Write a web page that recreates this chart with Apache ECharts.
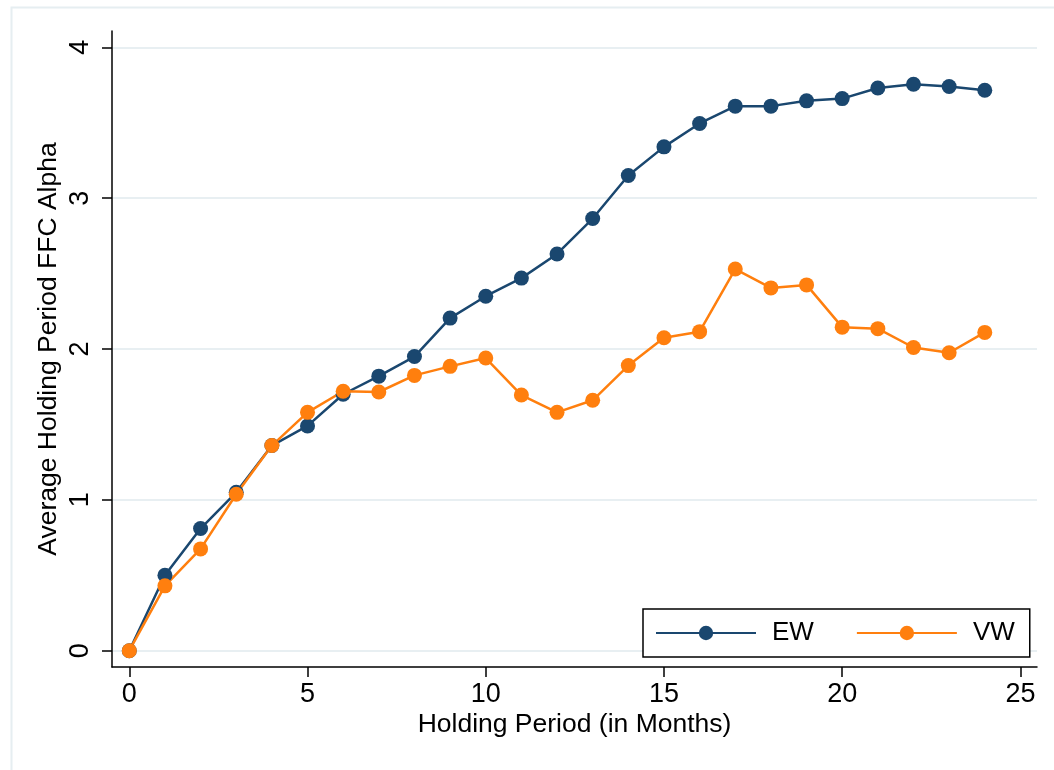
<!DOCTYPE html>
<html>
<head>
<meta charset="utf-8">
<script src="https://cdn.jsdelivr.net/npm/echarts@6/dist/echarts.min.js"></script>
<style>
  html, body { margin: 0; padding: 0; background: #fff; }
  #chart { width: 1054px; height: 770px; }
</style>
</head>
<body>
<div id="chart"></div>
<script>
// holding period (months)
var months = [0, 1, 2, 3, 4, 5, 6, 7, 8, 9, 10, 11, 12, 13, 14, 15, 16, 17, 18, 19, 20, 21, 22, 23, 24];
// equal weighted
var ew = [0, 0.50, 0.81, 1.05, 1.36, 1.49, 1.70, 1.82, 1.95, 2.205, 2.35, 2.47, 2.63, 2.865, 3.15,
  3.34, 3.495, 3.61, 3.61, 3.645, 3.66, 3.73, 3.755, 3.74, 3.715];
// value weighted
var vw = [0, 0.43, 0.675, 1.037, 1.36, 1.58, 1.72, 1.715, 1.825, 1.885, 1.94, 1.695, 1.58, 1.66, 1.89,
  2.075, 2.115, 2.53, 2.405, 2.425, 2.145, 2.135, 2.01, 1.975, 2.11];
var xTicks = [0, 5, 10, 15, 20, 25];
var yTicks = [0, 1, 2, 3, 4];

(function () {
  var chartDom = document.getElementById('chart');
  var myChart = echarts.init(chartDom);
  var font = 'Liberation Sans, Arial, sans-serif';

  function pairs(ys) {
    return months.map(function (m, i) { return [m, ys[i]]; });
  }

  var option = {
    backgroundColor: '#fff',
    animation: false,
    textStyle: { fontFamily: font, color: '#000' },
    // light outer frame
    graphic: [{
      type: 'rect',
      left: 9,
      top: 5,
      shape: { width: 1100, height: 800 },
      style: { fill: 'none', stroke: '#e6eef1', lineWidth: 2 },
      silent: true
    }],
    grid: {
      left: 112,
      right: 17,
      top: 31,
      bottom: 103
    },
    legend: {
      left: 643,
      top: 609,
      padding: [11, 15, 11, 12],
      itemGap: 42,
      itemWidth: 100,
      itemHeight: 18,
      borderColor: '#000',
      borderWidth: 1.5,
      backgroundColor: '#fff',
      textStyle: {
        fontFamily: font,
        fontSize: 26,
        color: '#000',
        padding: [0, 0, 0, 11]
      },
      data: ['EW', 'VW']
    },
    xAxis: {
      type: 'value',
      min: -0.485,
      max: 25.465,
      name: 'Holding Period (in Months)',
      nameLocation: 'middle',
      nameGap: 44,
      nameMoveOverlap: false,
      nameTextStyle: { fontFamily: font, fontSize: 26.5, color: '#000' },
      axisLine: { onZero: false, lineStyle: { color: '#000', width: 1.5 } },
      axisTick: { length: 10, lineStyle: { color: '#000', width: 1.5 }, customValues: xTicks },
      axisLabel: { fontSize: 27, color: '#000', margin: 14, customValues: xTicks },
      splitLine: { show: false }
    },
    yAxis: {
      type: 'value',
      min: -0.108,
      max: 4.108,
      name: 'Average Holding Period FFC Alpha',
      nameLocation: 'middle',
      nameGap: 50,
      nameMoveOverlap: false,
      nameTextStyle: { fontFamily: font, fontSize: 26.5, color: '#000' },
      axisLine: { show: true, onZero: false, lineStyle: { color: '#000', width: 1.5 } },
      axisTick: { show: true, length: 10, lineStyle: { color: '#000', width: 1.5 }, customValues: yTicks },
      axisLabel: { fontSize: 27, color: '#000', margin: 18, rotate: 90, customValues: yTicks },
      splitLine: { show: true, lineStyle: { color: '#e8eff2', width: 2 } }
    },
    series: [
      {
        name: 'EW',
        type: 'line',
        data: pairs(ew),
        symbol: 'circle',
        symbolSize: 15,
        color: '#1a476f',
        lineStyle: { width: 2.5, color: '#1a476f' },
        itemStyle: { color: '#1a476f' }
      },
      {
        name: 'VW',
        type: 'line',
        data: pairs(vw),
        symbol: 'circle',
        symbolSize: 15,
        color: '#ff7f0e',
        lineStyle: { width: 2.5, color: '#ff7f0e' },
        itemStyle: { color: '#ff7f0e' }
      }
    ]
  };

  option && myChart.setOption(option);
  window.addEventListener('resize', function () {
    myChart.resize();
  });
})();
</script>
</body>
</html>
